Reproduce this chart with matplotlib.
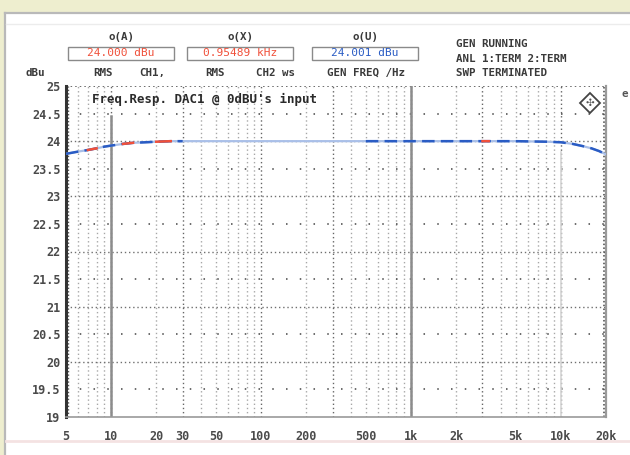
import numpy as np
import matplotlib
matplotlib.use("Agg")
import matplotlib.pyplot as plt
from matplotlib.patches import Rectangle, Polygon
from matplotlib.lines import Line2D
from matplotlib.ticker import FixedLocator, NullLocator

W, H = 630, 455

# sweep result, level vs generator frequency
freq_hz = [5, 6, 7, 8, 9, 10, 12, 14, 17, 20, 25, 30, 40, 50, 100, 200, 500,
           1000, 2000, 3000, 3300, 5000, 8000, 10000, 12000, 14000, 16000,
           18000, 20000]
level_dbu = [23.77, 23.81, 23.84, 23.87, 23.90, 23.92, 23.95, 23.97, 23.98,
             23.99, 24.0, 24.0, 24.0, 24.0, 24.0, 24.0, 24.0, 24.0, 24.0,
             24.0, 24.0, 24.0, 23.99, 23.98, 23.95, 23.91, 23.87, 23.82, 23.76]

x_ticks = [5, 10, 20, 30, 50, 100, 200, 500, 1000, 2000, 5000, 10000, 20000]
x_tick_labels = ["5", "10", "20", "30", "50", "100", "200", "500", "1k", "2k",
                 "5k", "10k", "20k"]
y_ticks = [19, 19.5, 20, 20.5, 21, 21.5, 22, 22.5, 23, 23.5, 24, 24.5, 25]
y_tick_labels = ["19", "19.5", "20", "20.5", "21", "21.5", "22", "22.5", "23",
                 "23.5", "24", "24.5", "25"]

reading_heads = ["o(A)", "o(X)", "o(U)"]
reading_values = ["24.000 dBu", "0.95489 kHz", "24.001 dBu"]
reading_subs = [[("RMS", 103), ("CH1,", 152)],
                [("RMS", 215), ("CH2 ws", 275)],
                [("GEN FREQ /Hz", 366)]]
status_lines = ["GEN RUNNING", "ANL 1:TERM 2:TERM", "SWP TERMINATED"]
title = "Freq.Resp. DAC1 @ 0dBU's input"

MONO = "DejaVu Sans Mono"
RED = "#f0503a"
BLUE = "#2a5cc4"
PALE = "#a9bfe8"
INK = "#3a3a3a"


def fx(x):
    return x / W


def fy(y):
    return 1 - y / H


def htext(x, y, s, **kw):
    opts = dict(ha="center", va="center", family=MONO, fontsize=7.8,
                fontweight="bold", color=INK)
    opts.update(kw)
    fig.text(fx(x), fy(y), s, **opts)


fig = plt.figure(figsize=(W / 100, H / 100), dpi=100)
fig.patch.set_facecolor("white")

# window chrome: yellow border, gray edges, pink footer line
fig.patches.append(Rectangle((0, fy(13)), 1, 13 / H, transform=fig.transFigure,
                             facecolor="#eeeecf", edgecolor="none", zorder=0))
fig.patches.append(Rectangle((0, 0), fx(5), 1, transform=fig.transFigure,
                             facecolor="#eeeecf", edgecolor="none", zorder=0))
fig.lines.append(Line2D([fx(5), fx(5)], [0, fy(13)], transform=fig.transFigure,
                        color="#b9b9b9", lw=1.6))
fig.lines.append(Line2D([fx(5), 1], [fy(13), fy(13)], transform=fig.transFigure,
                        color="#b9b9b9", lw=1.6))
fig.lines.append(Line2D([fx(6), 1], [fy(24), fy(24)], transform=fig.transFigure,
                        color="#ececec", lw=1.0))
fig.lines.append(Line2D([fx(6), 1], [fy(441), fy(441)], transform=fig.transFigure,
                        color="#f4e2e2", lw=2.0))

# reading boxes
box_x = [68, 187, 312]
for head, val, subs, bx in zip(reading_heads, reading_values, reading_subs,
                               box_x):
    cx = bx + 53
    htext(cx, 37, head)
    fig.patches.append(Rectangle((fx(bx), fy(60)), 106 / W, 13 / H,
                                 transform=fig.transFigure, facecolor="white",
                                 edgecolor="#8a8a8a", lw=1.0))
    vcol = BLUE if head == "o(U)" else RED
    htext(cx, 53.5, val, color=vcol, fontweight="normal", fontsize=8)
    for s, sx in subs:
        htext(sx, 73, s)
for i, s in enumerate(status_lines):
    htext(456, 44 + 14.5 * i, s, ha="left")
htext(35, 73, "dBu")
htext(621, 94, "e", ha="left", color="#555555")

# plot area
ax = fig.add_axes([fx(66), fy(417), 540 / W, 331 / H])
ax.set_xscale("log")
ax.set_xlim(5, 20000)
ax.set_ylim(19, 25)
ax.set_facecolor("white")

# dotted grid: minor decade steps and half-dB lines
minor = []
for dec in [1, 10, 100, 1000, 10000]:
    for m in range(1, 10):
        f = m * dec
        if 5 < f < 20000:
            minor.append(f)
for f in minor:
    major = f in (10, 100, 1000, 10000, 30, 300, 3000)
    ax.axvline(f, color="#555555" if major else "#8a8a8a", lw=1.0,
               ls=(0, (1, 2)), alpha=0.9 if major else 0.75, zorder=1)
for v in y_ticks[1:-1]:
    if v == int(v):
        ax.axhline(v, color="#707070", lw=1.0, ls=(0, (1, 2)), zorder=1)
    else:
        ax.axhline(v, color="#444444", lw=1.1, ls=(0, (1, 8)), zorder=1)
ax.axhline(25, color="#444444", lw=1.1, ls=(0, (1, 2)), zorder=1)

# solid cursor-like lines
ax.axvline(10, ymin=0, ymax=0.91, color="#8c8c8c", lw=1.8, zorder=2)
ax.axvline(1000, color="#8c8c8c", lw=1.8, zorder=2)
ax.axvline(10000, ymin=0, ymax=0.8, color="#d6d6d6", lw=1.2, zorder=2)
ax.axvline(19400, color="#444444", lw=1.1, ls=(0, (1, 1.5)), zorder=2)
ax.axvline(5.15, color="#555555", lw=1.0, ls=(0, (1, 1.5)), zorder=2)

# measured trace: pale base, blue channel and red channel segments
f = np.array(freq_hz, dtype=float)
lv = np.array(level_dbu, dtype=float)
ax.plot(f, lv, color=PALE, lw=1.6, zorder=3)
dark = (f <= 30) | ((f >= 500) & (f <= 1000)) | (f >= 2000)
ax.plot(f, np.where(dark, lv, np.nan), color=BLUE, lw=1.8,
        ls=(0, (5, 2.5)), zorder=4)
red = ((f >= 7) & (f <= 8)) | ((f >= 12) & (f <= 14)) | \
      ((f >= 20) & (f <= 25)) | ((f >= 3000) & (f <= 3300))
ax.plot(f, np.where(red, lv, np.nan), color=RED, lw=1.8, zorder=5)

ax.text(0.048, 0.978, title, transform=ax.transAxes, ha="left", va="top",
        family=MONO, fontsize=9, fontweight="bold", color="#2a2a2a",
        zorder=6)

# small diamond marker in the corner
dx, dy = 590, 103
diamond = Polygon([(fx(dx), fy(dy - 10)), (fx(dx + 10), fy(dy)),
                   (fx(dx), fy(dy + 10)), (fx(dx - 10), fy(dy))],
                  closed=True, transform=fig.transFigure, facecolor="white",
                  edgecolor="#444444", lw=1.3, zorder=10)
fig.patches.append(diamond)
fig.text(fx(dx), fy(dy), "✣", ha="center", va="center", fontsize=7.5,
         color="#555555", zorder=11)

ax.xaxis.set_major_locator(FixedLocator(x_ticks))
ax.xaxis.set_minor_locator(NullLocator())
ax.set_xticklabels(x_tick_labels)
ax.set_yticks(y_ticks)
ax.set_yticklabels(y_tick_labels)
ax.tick_params(axis="both", length=0, labelsize=8.5, colors="#4a4a4a")
ax.tick_params(axis="x", pad=9)
ax.tick_params(axis="y", pad=4)
for lab in ax.get_xticklabels() + ax.get_yticklabels():
    lab.set_family(MONO)
    lab.set_fontweight("bold")

ax.spines["left"].set_color("#333333")
ax.spines["left"].set_linewidth(2.2)
ax.spines["bottom"].set_color("#9a9a9a")
ax.spines["bottom"].set_linewidth(1.2)
ax.spines["right"].set_color("#9a9a9a")
ax.spines["right"].set_linewidth(1.6)
ax.spines["top"].set_visible(False)

fig.savefig("out.png", dpi=100)
